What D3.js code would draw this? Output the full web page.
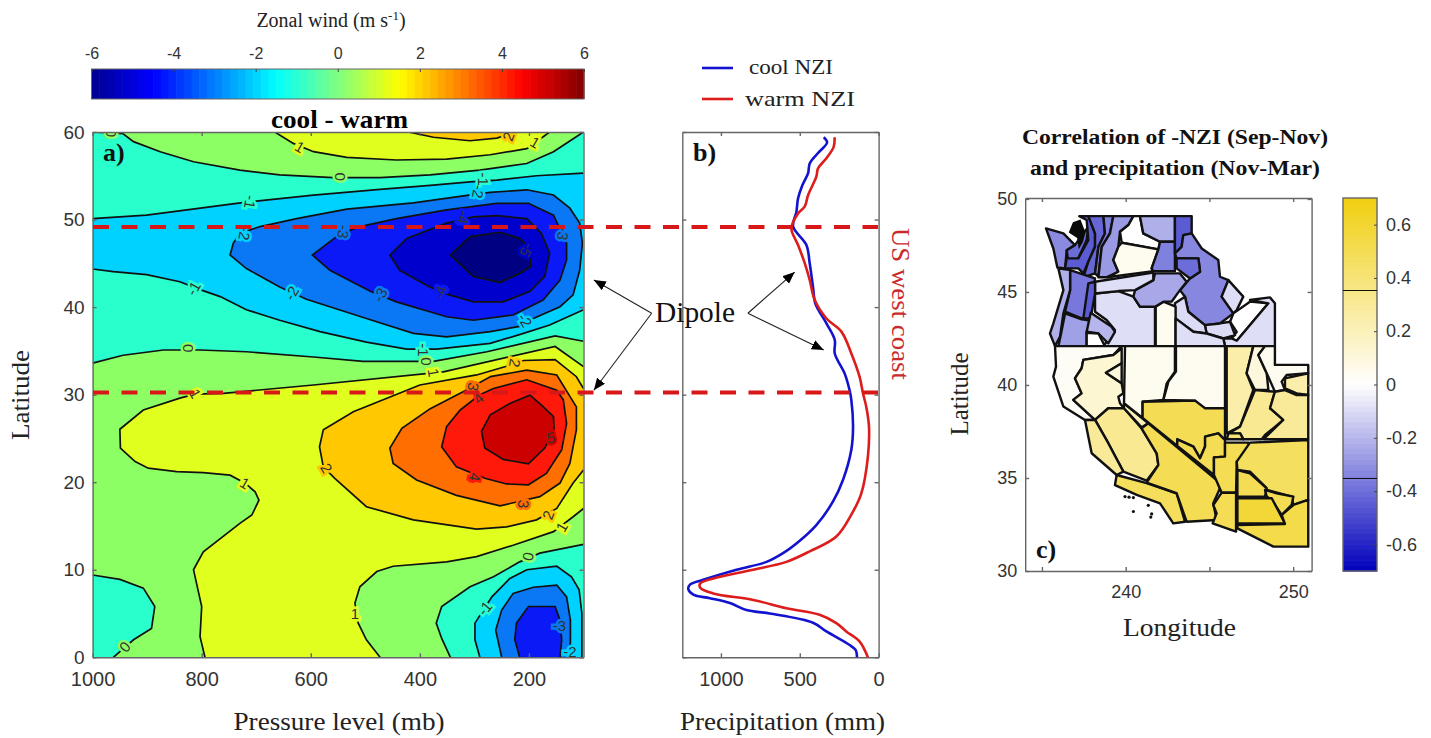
<!DOCTYPE html>
<html><head><meta charset="utf-8">
<script src="https://cdn.jsdelivr.net/npm/d3@7"></script>
<style>html,body{margin:0;padding:0;background:#fff}svg{display:block}</style>
</head><body><svg id="c" width="1431" height="738"></svg>
<script>
// ---------- Panel a: zonal wind contours, [pressure mb, latitude] ----------
const zeroNorth=[[1000,60],[944,59.8],[925,58.9],[876,57.75],[815,56.6],[730,55.65],[657,55.1],[559,54.8],[473,54.8],[381,55.1],[290,55.65],[204,56.4],[155,57.75],[100,60]];
const oneTop=[[666,60],[632,58.7],[595,57.75],[534,57.1],[443,56.8],[351,56.9],[271,57.4],[204,58.1],[162,60]];
const twoTop=[[421,60],[375,59.4],[308,59],[259,59.3],[223,60]];
const minusOneNorth=[[1000,50.1],[901,50.5],[827,51.1],[736,51.85],[687,52.2],[595,52.8],[473,53.45],[381,53.9],[308,54.3],[259,54.5],[186,55],[100,55.3]];
const minusOneSouth=[[100,39.7],[162,37.95],[210,37],[271,35.85],[369,35.2],[424,35.2],[498,36],[583,37.2],[657,38.5],[718,39.7],[766,41.2],[803,42],[840,42.9],[901,43.7],[962,44.05],[1000,44.35]];
const minusTwo=[[748,45.95],[742,47.3],[730,48.4],[693,49.2],[626,50.1],[534,51.2],[412,51.9],[320,52.7],[271,53.1],[204,53.4],[155,52.8],[125,51.3],[107,49.6],[102,47.3],[107,44.2],[119,41.4],[143,40.05],[192,38.7],[217,37.8],[271,37.2],[351,36.6],[412,37],[498,38.7],[608,40.9],[657,42.3],[718,44.4]];
const minusThree=[[597,45.95],[553,48.05],[516,49.1],[443,50.1],[351,51.1],[259,51.85],[201,51.85],[155,50.5],[131,47.3],[131,45.4],[143,43.1],[174,40.8],[229,39.1],[302,38.5],[351,38.9],[443,40.6],[491,41.8],[565,44.2]];
const minusFour=[[455,45.95],[424,47.85],[351,49.6],[302,50.3],[259,50.45],[204,50.1],[177,48.4],[162,46.15],[171,43.5],[198,41.8],[247,40.6],[302,40.6],[357,41.6],[388,42.5],[437,44.2]];
const minusFive=[[344,45.95],[308,48.05],[253,48.55],[217,47.85],[198,46.7],[197,44.6],[217,43.85],[253,42.8],[302,43.5]];
const zeroSouth=[[1000,33.6],[944,34.5],[870,35.1],[803,35.1],[718,34.9],[595,34.3],[504,33.8],[375,33.8],[277,34.9],[152,36.7],[100,36.1]];
const oneWest=[[100,33.2],[152,35.5],[357,32.6],[595,31.1],[760,30.15],[812,30.05],[840,29.6],[907,28.25],[950,26.05],[949,23.9],[922,22.35],[898,21.6],[846,21.2],[797,21.1],[748,20.8],[721,19.9],[702,18.9],[695,17.95],[708,16.25],[730,15.3],[797,12.05],[815,10],[800,5.8],[803,2.35],[794,0]];
const oneEast=[[473,0],[498,2],[513,3.9],[519,6.2],[510,8.05],[479,9.8],[449,10.4],[351,10.9],[296,11.5],[229,12.8],[155,14.35],[119,16.05],[100,17]];
const twoSouth=[[100,30.7],[113,32.05],[152,34],[210,33.9],[241,33.25],[296,32.25],[400,31.1],[522,28.05],[577,26],[584,24.05],[577,21.75],[556,20.45],[498,17.2],[412,15.7],[296,14.65],[241,14.9],[186,15.7],[149,17],[119,19.9],[100,21.4]];
const threeSouth=[[271,32.05],[204,32.8],[149,32.25],[113,28.6],[113,26],[125,22.15],[143,19.9],[180,18.35],[253,17.3],[333,18.5],[406,20.25],[449,22.15],[455,23.9],[433,26.15],[381,28.4],[320,30.35]];
const fourSouth=[[265,30.7],[204,31.7],[149,30.5],[137,29.4],[131,26.7],[140,23.7],[168,21],[201,19.7],[241,19.8],[281,20.45],[333,21.75],[360,24.05],[351,26.35],[326,28.25],[290,30]];
const fiveSouth=[[198,29.95],[177,28.8],[155,27.5],[154,26],[171,23.9],[201,22.1],[247,22.6],[281,23.9],[287,25.8],[271,27.7],[235,29]];
const zeroBottomLeft=[[1000,9.4],[950,8.9],[907,7.9],[886,5.8],[892,3.3],[925,2],[962,0]];
const zeroBottomRight=[[100,12.9],[180,11.9],[217,10.9],[265,9.2],[308,8.05],[360,5.8],[370,3.9],[360,2.15],[344,0]];
const minusOneBottom=[[103,0],[103,5],[108,7.7],[122,9.2],[149,10.4],[204,10],[235,9],[268,6.9],[299,3.9],[299,2],[290,0]];
const minusTwoBottom=[[125,0],[124,2],[124,4.25],[131,6.9],[149,8.25],[192,8],[229,7.3],[250,5.4],[261,3.1],[250,0]];
const minusThreeBottom=[[217,0],[226,2],[223,3.9],[201,5.8],[152,5.8],[143,4.25],[140,2],[143,0]];
const contourLabels=[[965,59.9,"0",90],[620,58.3,"1",30],[238,59.5,"2",-70],[189,58.8,"1",30],[546,54.9,"0",90],[711,52,"-1",100],[293,53.2,"-2",100],[284,54.6,"-1",90],[721,48.4,"-2",100],[540,48.6,"-3",100],[320,50.25,"-4",100],[137,48.4,"-3",100],[204,46.5,"-5",120],[815,42.15,"-1",-60],[635,41.6,"-2",-60],[473,41.4,"-3",-60],[363,41.65,"-4",-70],[207,38.5,"-2",60],[394,35.1,"-1",90],[388,33.8,"0",90],[375,32.5,"1",80],[825,35.3,"0",90],[226,33.6,"2",100],[302,30.9,"3",100],[293,29.6,"4",-40],[812,30.1,"1",60],[721,19.9,"1",30],[571,21.6,"2",60],[299,20.6,"4",100],[210,17.5,"3",95],[160,25.1,"5",-10],[165,16.25,"2",-70],[140,14.9,"1",-60],[201,11.5,"0",100],[519,5,"1",0],[941,1.2,"0",-50],[281,5.6,"-1",-50],[144,3.6,"-3",0],[125,0.6,"-2",0]];
const pressureTicks=[1000,800,600,400,200];
const latTicks=[0,10,20,30,40,50,60];
const windTicks=[-6,-4,-2,0,2,4,6];
// colour of the band whose lower level is the key
const bandLevels=[-6,-5,-4,-3,-2,-1,0,1,2,3,4,5];
const bandColors=["#000082","#0000cd","#0a19f5","#0a78f5","#00d2ff","#28ffcd","#8cff64","#e1ff1e","#ffc800","#ff6e00","#ff190a","#cd0000"];
const jetStops=[-6,-4.5,-1.5,1.5,4.5,6];
const jetColors=["#00008f","#0000ff","#00ffff","#ffff00","#ff0000","#800000"];
// dashed latitudes of the US west coast
const coastLats=[49.15,30.25];

// ---------- Panel b: precipitation profile, [mm, latitude] ----------
const coolNZI=[[348,59.4],[327,58.8],[384,57.6],[437,56.4],[447,55.3],[483,53.95],[511,52.4],[521,50.9],[542,49.2],[458,47.1],[437,45],[416,42.3],[401,40.4],[331,38.15],[278,36.25],[278,34.7],[215,32.4],[184,30.5],[173,29.4],[162,26.35],[173,23.7],[226,20.25],[289,17.8],[395,15.1],[521,13],[606,11.9],[711,10.9],[901,10],[1112,8.85],[1196,8.3],[1207,7.8],[1175,7.15],[1070,6.75],[943,6.2],[838,5.4],[690,5],[416,3.95],[331,2.95],[184,1.4],[146,0.85],[137,0]];
const warmNZI=[[279,59.4],[285,58.3],[331,57],[384,55.85],[395,54.9],[447,52.8],[468,51.5],[511,50.7],[553,49],[511,47.1],[468,45],[437,43.1],[405,40.8],[331,38.7],[236,37.2],[173,34.7],[120,32],[99,30.15],[78,28.6],[61,26.35],[68,22.9],[110,18.7],[173,16.3],[268,13.8],[437,12.1],[585,10.9],[795,10],[1049,9],[1133,8.4],[1129,7.9],[1049,7.3],[795,6.55],[585,5.6],[374,4.85],[268,3.9],[205,2.95],[120,1.8],[68,0]];
const precipTicks=[1000,500,0];
const dipoleTailA=[-25,39.3], dipoleTipsA=[[81,43.1],[81,30.5]];
const dipoleTailB=[829,39.3], dipoleTipsB=[[532,44],[348,35.1]];

// ---------- Panel c: correlation by climate division, [lon, lat] ----------
const divisions=[
 {v:-0.32,p:[[235.24,48.42],[236.28,48.15],[236.97,47.52],[236.48,47.25],[236.38,46.27],[235.92,46.32],[235.68,47.34]]},
 {v:-0.40,p:[[236.48,47.25],[236.97,47.52],[237.47,48.15],[237.77,48.51],[237.67,47.79],[237.17,46.81],[236.58,46.54]]},
 {v:-0.45,p:[[237.23,49.08],[237.77,49.08],[238.17,48.15],[238.17,47.43],[237.77,46.63],[237.47,46],[237.17,46.27],[236.38,46.27],[236.48,46.81],[237.17,46.81],[237.77,47.79],[237.67,48.87]]},
 {v:-0.42,p:[[237.77,49.08],[238.67,49.08],[238.76,48.15],[238.37,47.43],[238.17,46],[237.47,45.79],[237.77,46.63],[238.17,47.43],[238.17,48.15]]},
 {v:-0.35,p:[[238.67,49.08],[239.26,49.08],[239.06,48.15],[238.57,47.43],[238.37,45.82],[238.17,46],[238.37,47.43],[238.76,48.15]]},
 {v:-0.28,p:[[239.26,49.08],[240.46,49.08],[240.16,48.6],[239.66,48.24],[239.56,47.43],[239.26,46.72],[239.56,46.09],[238.86,45.79],[238.37,45.79],[238.57,47.43],[239.06,48.15]]},
 {v:0.0,p:[[240.46,49.08],[240.85,49.08],[241.05,48.15],[242.05,47.7],[241.95,47.29],[239.76,47.65],[239.66,48.24],[240.16,48.6]]},
 {v:0.05,p:[[239.76,47.65],[241.95,47.29],[241.55,46.27],[241.65,46.12],[238.9,45.79],[239.56,46.09],[239.26,46.72],[239.56,47.43]]},
 {v:-0.22,p:[[240.85,49.08],[242.94,49.08],[242.94,47.7],[242.05,47.7],[241.05,48.15]]},
 {v:-0.35,p:[[242.94,47.7],[242.94,46.12],[241.65,46.12],[241.55,46.27],[241.95,47.29],[242.05,47.7]]},
 {v:-0.45,p:[[242.94,49.08],[243.94,49.08],[243.94,48.15],[243.44,48.06],[243.34,47.43],[242.94,47.08]]},
 {v:-0.33,p:[[242.94,47.08],[243.34,47.43],[243.44,48.06],[243.94,48.15],[244.54,47.34],[245.53,46.72],[245.63,45.82],[246.13,45.64],[245.73,44.75],[246.43,43.85],[245.63,43.31],[244.73,43.22],[243.74,43.94],[243.54,44.75],[243.24,45.1],[243.84,45.73],[244.44,46.09],[244.34,46.81],[243.04,46.81]]},
 {v:-0.40,p:[[243.04,46.81],[244.34,46.81],[244.44,46.09],[243.84,45.73],[243.04,46.27]]},
 {v:-0.09,p:[[246.13,45.64],[247.02,44.75],[246.63,44.03],[246.43,43.85],[245.73,44.75]]},
 {v:0.0,p:[[246.43,43.85],[247.42,44.48],[248.52,44.39],[246.63,42.38],[246.33,42.5],[246.63,42.86],[246.23,43.4]]},
 {v:-0.09,p:[[248.62,44.71],[248.91,44.39],[248.91,42.09],[245.93,42.09],[245.83,42.5],[246.33,42.5],[246.63,42.38],[248.52,44.39],[247.42,44.57]]},
 {v:-0.1,p:[[244.73,43.22],[245.63,43.31],[246.23,43.4],[246.53,42.68],[245.83,42.5],[244.83,42.77]]},
 {v:-0.1,p:[[242.94,44.39],[243.54,44.75],[243.74,43.94],[244.73,43.22],[244.83,42.77],[244.04,42.86],[242.94,43.58]]},
 {v:0.05,p:[[241.79,44.21],[242.25,44.48],[242.98,44.21],[242.98,42.09],[241.79,42.09]]},
 {v:-0.09,p:[[242.98,43.58],[244.04,42.86],[244.83,42.77],[245.83,42.5],[245.93,42.09],[242.98,42.09]]},
 {v:-0.09,p:[[238.17,44.92],[239.56,45.05],[240.46,44.75],[240.85,44.21],[241.75,44.21],[241.75,42.09],[238.67,42.09],[239.36,42.95],[238.86,43.49],[238.17,43.94]]},
 {v:-0.24,p:[[240.56,45.1],[241.65,45.64],[241.75,46],[243.24,46],[243.64,45.55],[243.24,45.1],[242.74,44.48],[242.25,44.48],[241.75,44.21],[240.85,44.21],[240.46,44.75]]},
 {v:-0.09,p:[[238.17,45.55],[241.65,46.04],[241.65,45.64],[240.56,45.1],[239.56,45.05],[238.17,44.92]]},
 {v:-0.37,p:[[236.68,46.18],[238.17,45.73],[237.77,43.58],[237.37,43.58],[236.38,43.94],[236.68,45.1]]},
 {v:-0.45,p:[[237.77,45.46],[238.17,45.55],[238.17,44.92],[237.91,43.58],[237.47,43.58]]},
 {v:-0.22,p:[[235.98,46.27],[236.68,46.18],[236.68,45.1],[236.28,43.85],[236.08,42.6],[235.78,42.09],[235.48,42.77],[235.68,43.31],[236.28,45.1]]},
 {v:-0.26,p:[[236.38,43.85],[237.37,43.53],[237.91,43.46],[237.67,42.86],[237.67,42.09],[235.98,42.09],[236.12,42.68]]},
 {v:-0.2,p:[[237.91,43.89],[239.16,43.13],[239.36,42.86],[238.96,42.24],[238.37,42.77],[237.67,42.86]]},
 {v:0.0,p:[[237.67,42.81],[238.37,42.77],[238.76,42.09],[237.67,42.09]]},
 // California
 {v:0.03,p:[[235.78,42.09],[239.76,42.09],[239.26,41.61],[237.47,41.35],[237.37,40.9],[236.97,40.36],[237.37,39.55],[236.87,39.2],[238.17,38.12],[237.57,38.12],[236.28,38.84],[235.68,40.45],[235.84,40.99]]},
 {v:0.13,p:[[237.47,41.35],[239.26,41.61],[239.76,41.97],[239.76,41.17],[238.82,40.66],[239.76,40.09],[239.86,39.55],[239.56,39.37],[239.66,39.02],[239.9,38.75],[238.96,38.75],[238.17,38.12],[236.87,39.2],[237.37,39.55],[236.97,40.36],[237.37,40.9]]},
 {v:0.10,p:[[239.76,41.17],[239.76,40.09],[238.82,40.66]]},
 {v:0.32,p:[[238.17,38.12],[238.96,38.75],[239.9,38.75],[240.95,37.67],[241.85,36.33],[241.95,35.7],[241.25,34.86],[239.86,35.34],[238.96,36.87]]},
 {v:0.30,p:[[237.57,38.12],[238.17,38.12],[238.96,36.87],[239.86,35.34],[239.46,35.16],[237.97,36.33],[237.77,37.22]]},
 {v:0.48,p:[[239.46,35.16],[241.25,34.72],[243.04,34.18],[243.54,32.65],[242.84,32.56],[242.05,33.64],[240.66,34.09],[239.36,34.62]]},
 {v:0.20,p:[[239.9,39.02],[241.35,37.94],[240.95,37.73],[239.9,38.75]]},
 {v:0.50,p:[[241.35,37.94],[245.43,34.89],[245.63,34.45],[245.23,33.64],[245.43,32.74],[243.64,32.65],[243.04,34.18],[241.25,34.75],[241.95,35.7],[241.85,36.33],[240.95,37.67]]},
 // Nevada
 {v:0.05,p:[[239.96,42.09],[242.94,42.09],[242.94,40.72],[242.45,40.09],[242.25,39.2],[241.01,39.1],[241.01,38.23],[239.9,39.02]]},
 {v:0.04,p:[[243,42.09],[245.93,42.09],[245.93,38.75],[244.64,38.75],[244.14,39.16],[242.25,39.2],[242.55,40.18],[243,40.72]]},
 {v:0.50,p:[[241.01,39.1],[244.14,39.16],[244.74,38.75],[245.93,38.75],[245.93,37.04],[245.53,37.4],[244.74,37.22],[244.74,36.69],[244.44,36.06],[244.04,36.69],[243.08,37.08],[243.08,36.72],[241.01,38.23]]},
 {v:0.50,p:[[243.08,37.08],[244.04,36.69],[244.44,36.06],[244.74,36.69],[244.74,37.22],[245.53,37.4],[245.93,37.04],[245.93,36.15],[245.27,36.11],[245.27,35.16],[243.08,36.72]]},
 // Arizona
 {v:0.50,p:[[245.27,36.11],[245.93,36.15],[245.93,36.9],[247.32,36.9],[247.42,36.51],[246.63,35.88],[246.59,34.21],[245.73,34.21],[245.27,35.16]]},
 {v:0.50,p:[[245.73,34.21],[246.59,34.21],[246.59,32.12],[245.19,32.56],[245.43,33.1],[245.23,33.55]]},
 {v:0.47,p:[[247.42,36.9],[250.9,37.04],[250.9,33.82],[250.01,33.55],[249.91,34],[248.42,34.36],[248.32,34.54],[247.42,35.34],[246.67,35.43],[246.63,35.88]]},
 {v:0.50,p:[[246.67,35.43],[247.42,35.25],[248.42,34.45],[248.32,34],[246.67,34]]},
 {v:0.50,p:[[248.32,34.36],[249.01,34.18],[250.01,34],[249.91,33.55],[249.31,33.01],[248.72,33.82],[248.42,34]]},
 {v:0.58,p:[[246.67,33.91],[248.72,33.91],[249.51,32.56],[246.67,32.56]]},
 {v:0.53,p:[[246.67,32.47],[249.51,32.53],[249.31,33.01],[250.01,33.55],[250.9,33.82],[250.9,31.31],[248.82,31.31],[246.67,32.29]]},
 // Utah and the corner
 {v:0.25,p:[[246.03,42.09],[247.62,42.09],[247.22,40.63],[247.62,39.73],[246.83,37.76],[246.03,37.4]]},
 {v:0.10,p:[[247.62,42.09],[248.32,42.09],[247.92,41.61],[248.42,40.63],[248.52,39.73],[247.72,39.73],[247.22,40.63]]},
 {v:0.04,p:[[248.32,42.09],[248.91,42.09],[248.91,41.08],[250.9,41.08],[250.9,40.63],[249.61,40.54],[249.31,40.18],[249.51,39.73],[248.91,39.64],[248.42,40.63],[247.92,41.61]]},
 {v:0.25,p:[[249.51,40.36],[250.9,40.63],[250.9,39.46],[250.21,39.55],[249.51,39.82]]},
 {v:0.32,p:[[247.72,39.73],[248.91,39.64],[248.62,38.75],[249.41,38.12],[248.32,37.31],[248.12,37.08],[247.03,37.08],[246.83,37.4],[246.13,37.4],[246.83,37.76]]},
 {v:0.30,p:[[248.91,39.64],[249.51,39.73],[250.21,39.46],[250.9,39.46],[250.9,37.08],[248.22,37.08],[249.41,38.12],[248.62,38.75]]},
 {v:0.40,p:[[246.13,37.4],[246.83,37.4],[247.03,37.08],[246.03,37.08]]}
];
const pugetIslands=[[236.85,48.75],[237.3,48.9],[237.6,48.2],[237.45,47.7],[237.2,47.3],[237.1,47.9],[236.6,48.2]];
const channelIslands=[[239.96,34.0],[240.2,33.97],[240.46,33.95],[240.46,33.2],[241.35,33.53],[241.55,33.07],[241.5,32.9]];
const corrTicks=[-0.6,-0.4,-0.2,0,0.2,0.4,0.6];
const significance=[-0.353,0.353];
const lonTicks=[235,240,245,250];
const lonLabels=[240,250];
const mapLatTicks=[30,35,40,45,50];

// ---------- Drawing ----------
const svg=d3.select("#c");
const SERIF="'Liberation Serif','Times New Roman',serif", SANS="'Liberation Sans',Arial,sans-serif";
const txt=(x,y,s,o={})=>{const t=svg.append("text").attr("x",x).attr("y",y).attr("text-anchor",o.a||"middle")
  .attr("font-family",o.f||SERIF).attr("font-size",o.s||26).attr("fill",o.c||"#222").attr("font-weight",o.w||"normal").text(s);
  if(o.r!=null)t.attr("transform",`rotate(${o.r} ${x} ${y})`);
  if(o.l)t.attr("textLength",o.l).attr("lengthAdjust","spacingAndGlyphs");return t;};
const AXC="#666";
function axes(g,xs,ys,xt,yt,fmt,xlab){
  const [x0,x1]=xs.range(),[y0,y1]=ys.range();
  const mk=(a,tr,fs)=>{const gg=g.append("g").attr("transform",tr).call(a);
    gg.selectAll("line,path").attr("stroke",AXC).attr("stroke-width",1.4);
    gg.selectAll("text").attr("font-family",SANS).attr("font-size",fs).attr("fill","#333");return gg;};
  mk(d3.axisBottom(xs).tickValues(xt).tickSize(-4).tickSizeOuter(0).tickPadding(fmt.xp).tickFormat(d=>xlab.includes(d)?d:""),`translate(0,${y0})`,fmt.sx);
  mk(d3.axisTop(xs).tickValues(xt).tickSize(-4).tickSizeOuter(0).tickFormat(""),`translate(0,${y1})`,fmt.sx);
  mk(d3.axisLeft(ys).tickValues(yt).tickSize(-4).tickSizeOuter(0).tickPadding(fmt.yp).tickFormat(fmt.yf||(d=>d)),`translate(${x0},0)`,fmt.sy);
  mk(d3.axisRight(ys).tickValues(yt).tickSize(-4).tickSizeOuter(0).tickFormat(""),`translate(${x1},0)`,fmt.sy);
}
const defs=svg.append("defs");
defs.append("clipPath").attr("id","clipA").append("rect").attr("x",92.6).attr("y",132).attr("width",490.9).attr("height",525.3);
defs.append("marker").attr("id","arrow").attr("viewBox","0 0 10 10").attr("refX",10).attr("refY",5).attr("markerUnits","userSpaceOnUse")
  .attr("markerWidth",12).attr("markerHeight",10).attr("orient","auto").attr("preserveAspectRatio","none")
  .append("path").attr("d","M0,0L10,5L0,10Z").attr("fill","#000");

// Panel a
const xP=d3.scaleLinear().domain([1000,100]).range([92.6,583.5]);
const yL=d3.scaleLinear().domain([0,60]).range([657.3,132]);
const band=l=>bandColors[bandLevels.indexOf(l)];
const line=d3.line().x(d=>xP(d[0])).y(d=>yL(d[1]));
const gA=svg.append("g");
const fills=gA.append("g").attr("clip-path","url(#clipA)");
fills.append("rect").attr("x",92.6).attr("y",132).attr("width",490.9).attr("height",525.3).attr("fill",band(0));
const regions=[
 [-1,zeroNorth.concat(zeroSouth.slice().reverse())],
 [1,oneTop],[2,twoTop],
 [-2,minusOneNorth.concat(minusOneSouth)],
 [-3,minusTwo],[-4,minusThree],[-5,minusFour],[-6,minusFive],
 [1,oneWest.concat(oneEast)],[2,twoSouth],[3,threeSouth],[4,fourSouth],[5,fiveSouth],
 [-1,zeroBottomLeft.concat([[1000,0]])],
 [-1,zeroBottomRight.concat([[100,0]])],
 [-2,minusOneBottom],[-3,minusTwoBottom],[-4,minusThreeBottom]
];
fills.selectAll("path.r").data(regions).join("path").attr("class","r").attr("d",d=>line(d[1])+"Z").attr("fill",d=>band(d[0]));
const closedLines=[minusTwo,minusThree,minusFour,minusFive,threeSouth,fourSouth,fiveSouth];
const openLines=[zeroNorth,oneTop,twoTop,minusOneNorth,minusOneSouth,zeroSouth,oneWest,oneEast,twoSouth,zeroBottomLeft,zeroBottomRight,minusOneBottom,minusTwoBottom,minusThreeBottom];
fills.selectAll("path.c").data(closedLines).join("path").attr("class","c").attr("d",d=>line(d)+"Z").attr("fill","none").attr("stroke","#111").attr("stroke-width",1.7);
fills.selectAll("path.o").data(openLines).join("path").attr("class","o").attr("d",line).attr("fill","none").attr("stroke","#111").attr("stroke-width",1.7);
const lblT=d=>`translate(${xP(d[0])},${yL(d[1])}) rotate(${d[3]})`;
const lblC=d=>band(Math.min(5,Math.max(-6,+d[2])));
fills.append("g").selectAll("text").data(contourLabels).join("text").attr("transform",lblT)
  .attr("text-anchor","middle").attr("dy","0.36em").attr("font-family",SANS).attr("font-size",15)
  .attr("fill",lblC).attr("stroke",lblC).attr("stroke-width",5).text(d=>d[2]);
fills.append("g").selectAll("text").data(contourLabels).join("text").attr("transform",lblT)
  .attr("text-anchor","middle").attr("dy","0.36em").attr("font-family",SANS).attr("font-size",15)
  .attr("fill","#333").text(d=>d[2]);
axes(gA,xP,yL,pressureTicks,latTicks,{sx:20,sy:19,xp:15,yp:8},pressureTicks);

// wind colour bar
const jet=d3.scaleLinear().domain(jetStops).range(jetColors);
const xC=d3.scaleLinear().domain([-6,6]).range([91.5,584]);
const steps=d3.range(64).map(i=>-6+12*i/64);
svg.append("g").selectAll("rect").data(steps).join("rect").attr("x",d=>xC(d)).attr("y",69).attr("width",xC(-6+12/64)-xC(-6)+0.6).attr("height",30).attr("fill",d=>jet(d+6/64));
svg.append("rect").attr("x",91.5).attr("y",69).attr("width",492.5).attr("height",30).attr("fill","none").attr("stroke",AXC).attr("stroke-width",1);
const cbA=svg.append("g").attr("transform","translate(0,69)").call(d3.axisTop(xC).tickValues(windTicks).tickSize(-3).tickPadding(10).tickFormat(d=>d));
cbA.select(".domain").remove();cbA.selectAll("line").attr("stroke","#444");
cbA.selectAll("text").attr("font-family",SANS).attr("font-size",16).attr("fill","#333");
const tz=txt(331,27,"Zonal wind (m s",{s:20});
tz.append("tspan").attr("dy",-7).attr("font-size",13).text("-1");
tz.append("tspan").attr("dy",7).text(")");
txt(339.5,128,"cool - warm",{s:26,w:"bold",c:"#000",l:137});
txt(103,161,"a)",{a:"start",s:26,w:"bold",c:"#111"});
txt(29,395,"Latitude",{r:-90,s:26,l:90});
txt(339,730,"Pressure level (mb)",{s:26,l:211});

// Panel b
const xM=d3.scaleLinear().domain([1245,0]).range([682.3,878.6]);
const gB=svg.append("g");
axes(gB,xM,yL,[1000,500,0],latTicks,{sx:20,sy:19,xp:15,yp:8,yf:()=>""},precipTicks);
const lineB=d3.line().x(d=>xM(d[0])).y(d=>yL(d[1])).curve(d3.curveCatmullRom.alpha(0.5));
gB.append("path").attr("d",lineB(coolNZI)).attr("fill","none").attr("stroke","#1212cf").attr("stroke-width",2.6);
gB.append("path").attr("d",lineB(warmNZI)).attr("fill","none").attr("stroke","#dd1c1c").attr("stroke-width",2.6);
txt(693,161,"b)",{a:"start",s:26,w:"bold",c:"#111"});
txt(782.5,730,"Precipitation (mm)",{s:26,l:205});
svg.append("line").attr("x1",702).attr("x2",733).attr("y1",68).attr("y2",68).attr("stroke","#1212cf").attr("stroke-width",2.6);
svg.append("line").attr("x1",702).attr("x2",733).attr("y1",99).attr("y2",99).attr("stroke","#dd1c1c").attr("stroke-width",2.6);
txt(749,74,"cool NZI",{a:"start",s:21,l:84});
txt(745,106,"warm NZI",{a:"start",s:21,l:110});
txt(892,304,"US west coast",{r:90,s:26,c:"#c92a2a",l:152});

// dashed lines
svg.append("g").selectAll("line").data(coastLats).join("line").attr("x1",93).attr("x2",878)
  .attr("y1",d=>yL(d)).attr("y2",d=>yL(d)).attr("stroke","#d81818").attr("stroke-width",4).attr("stroke-dasharray","16 12.5");

// dipole
txt(695,322,"Dipole",{s:29,c:"#111",l:80});
const arrows=svg.append("g");
dipoleTipsA.forEach(t=>arrows.append("line").attr("x1",xP(dipoleTailA[0])).attr("y1",yL(dipoleTailA[1])).attr("x2",xP(t[0])).attr("y2",yL(t[1])).attr("stroke","#222").attr("stroke-width",1.1).attr("marker-end","url(#arrow)"));
dipoleTipsB.forEach(t=>arrows.append("line").attr("x1",xM(dipoleTailB[0])).attr("y1",yL(dipoleTailB[1])).attr("x2",xM(t[0])).attr("y2",yL(t[1])).attr("stroke","#222").attr("stroke-width",1.1).attr("marker-end","url(#arrow)"));

// Panel c
const xLon=d3.scaleLinear().domain([234,251.1]).range([1025.2,1311.6]);
const yLat=d3.scaleLinear().domain([30,50]).range([571,199]);
const mapPath=d3.line().x(d=>xLon(d[0])).y(d=>yLat(d[1]));
const corrColor=d3.scaleLinear().domain([-0.7,0,0.7]).range(["#0000bc","#ffffff","#f0cf10"]);
const gC=svg.append("g");
gC.selectAll("path").data(divisions).join("path").attr("d",d=>mapPath(d.p)+"Z").attr("fill",d=>corrColor(d.v)).attr("stroke","#111").attr("stroke-width",2.4).attr("stroke-linejoin","round");
gC.append("path").attr("d",mapPath(pugetIslands)+"Z").attr("fill","#0a0a0a");
gC.append("g").selectAll("circle").data(channelIslands).join("circle").attr("cx",d=>xLon(d[0])).attr("cy",d=>yLat(d[1])).attr("r",1.6).attr("fill","#111");
axes(gC,xLon,d3.scaleLinear().domain([30,50.05]).range([571,198]),lonTicks,mapLatTicks,{sx:18,sy:18,xp:14,yp:8},lonLabels);
txt(1175,144,"Correlation of -NZI (Sep-Nov)",{s:20,w:"bold",c:"#111",l:306});
txt(1175,175,"and precipitation (Nov-Mar)",{s:20,w:"bold",c:"#111",l:290});
txt(968,394,"Latitude",{r:-90,s:26,l:83});
txt(1179.5,636,"Longitude",{s:26,l:113});
txt(1036,558,"c)",{a:"start",s:26,w:"bold",c:"#111"});
// correlation bar
const yCb=d3.scaleLinear().domain([-0.7,0.7]).range([571,198]);
const cs=d3.range(70).map(i=>-0.7+i*0.02);
svg.append("g").selectAll("rect").data(cs).join("rect").attr("x",1343).attr("width",34).attr("y",d=>yCb(d+0.02)).attr("height",yCb(0)-yCb(0.02)+0.6).attr("fill",d=>corrColor(d+0.01));
svg.append("rect").attr("x",1343).attr("y",198).attr("width",34).attr("height",373).attr("fill","none").attr("stroke",AXC).attr("stroke-width",1.4);
svg.append("g").selectAll("line").data(significance).join("line").attr("x1",1343).attr("x2",1377).attr("y1",d=>yCb(d)).attr("y2",d=>yCb(d)).attr("stroke","#111").attr("stroke-width",1.1);
const cbC=svg.append("g").attr("transform","translate(1377,0)").call(d3.axisRight(yCb).tickValues(corrTicks).tickSize(-3).tickPadding(9).tickFormat(d=>d));
cbC.select(".domain").remove();cbC.selectAll("line").attr("stroke","#444");
cbC.selectAll("text").attr("font-family",SANS).attr("font-size",18).attr("fill","#333");
</script></body></html>
